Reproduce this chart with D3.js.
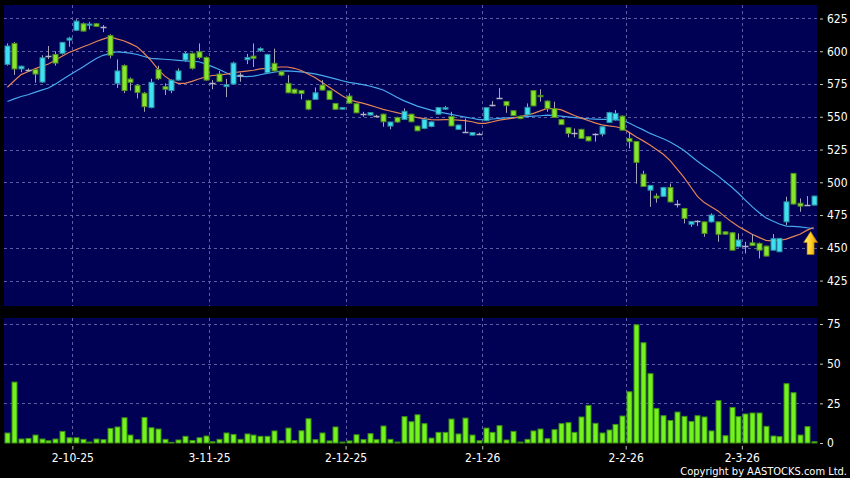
<!DOCTYPE html>
<html>
<head>
<meta charset="utf-8">
<script src="https://cdnjs.cloudflare.com/ajax/libs/d3/7.8.5/d3.min.js"></script>
<style>
  body { margin: 0; background: #000; }
  .axis text { font-family: "DejaVu Sans Condensed", "DejaVu Sans", sans-serif; font-stretch: condensed; font-size: 12px; fill: #fff; }
  .axis line { stroke: #c8c8c8; }
  .axis path { display: none; }
</style>
</head>
<body>
<div id="chart"></div>
<script>
// daily candles, one entry per trading day
const opens = [590,606,586.5,585.8,586,576.5,596,597.6,598.4,608.5,616,621,619.8,621,619.5,612,575.5,589,578.8,574,
  568,557,586,573,570,578,593.3,598.4,599.6,595.3,575.5,582.6,573,575,581.8,593.5,596.3,600.4,583.6,590.8,
  584.4,575.5,571,570,562.5,563.3,574.2,569.8,560.2,555.8,565.8,560,552.5,551.3,551,552,542.9,549.5,548,552,
  542.9,541.1,542.6,552,555.8,550.3,540.4,538.8,536,537.3,547,558.4,564.8,561.7,554.6,550.4,551.4,570,566.3,562,
  556.2,547.8,541.6,538,540.4,534.8,536.8,536.8,545.6,547.5,550.5,533.5,531.2,506.2,494,489.5,489.3,496,484,480,
  468,470.6,469.8,469.8,469.8,462.2,461.5,450.8,451.3,453.8,453.4,451.3,448.2,447,469.8,506.8,484,482.8,482.6];
const highs = [606,607,589,587,586.5,597,604,600,607,611,624.4,622,622.5,621.5,620,613,593.8,590,580,575,
  569,579,589,575.5,578.5,587,599.5,599,606,596,578,585,579,592,583.6,598,606,603,598,602,
  585,581.8,571.5,570.5,563,572.4,578,570.3,560.5,557.5,567.9,560.3,553.8,553.6,551.5,552.3,546.3,550,556.4,552.3,
  543.2,548.3,546.5,557.5,558.2,553.8,544,548.8,538.3,537.8,557.3,562,572,562,555,550.8,560.2,570.5,571,562.5,
  561.5,548.2,542,541.1,540.8,535.2,537.3,542.7,553.8,555.1,551,538.5,531.5,508.8,498,491.5,496.5,499,486.4,480.5,
  470.5,471,470,476.3,470.2,462.6,462,461,454.6,460.5,454,451.7,460.5,457.5,489,507,487.7,489.5,489.8];
const lows = [589,582,584,584.5,576,576,594,589,597.5,603.4,615.5,615,616.7,618.5,614.6,594.6,572,568,570,564,
  553.8,556.5,578,566.6,568,577.5,592,586,594,577.5,571,576.5,565,574.5,576.7,590.2,588,599.5,583,584.5,
  581,568,567.5,563.3,555,563,570,563,555.3,555.5,560,552.8,550,551,550,542.4,540.4,545.5,547.5,545.8,
  539,540.5,542,551.5,555.3,542.8,540,538,535.7,536.8,546.7,558,564.3,553,550.5,548.2,551,558,561.5,553.8,
  549.3,543.8,534.3,534.3,533.2,531.3,531,535,545.2,547,539.5,525.9,499,496.5,481.3,484.4,489,484.7,480.8,468.6,
  466,466.6,458.4,469.3,454.6,460,448,450.4,445.7,451.4,441.9,443.4,447.8,446.7,467.3,483,477.5,482.3,482.3];
const closes = [604,586.5,588.6,585.6,582.6,595,596,591,606.8,610,623,615.4,620.8,619,618.7,597,585,570,576.3,568.6,
  557.7,576.3,579,571,578,585,598.4,587,595.3,578,575.5,577,574.5,591,581.5,595.3,594.6,602,597.6,585,
  581.8,568.3,568,567.7,555.8,568.3,570.4,563.3,555.7,557.1,560.4,553,552.3,553.2,550.8,546.2,546,546,554.2,546.2,
  539.3,548,546.1,557,557,543,543.7,538.5,538,537.1,557,558.9,564.6,558.5,550.9,548.6,557.2,558.3,565.3,556.2,
  549.5,544,537.3,537.8,533.5,531.6,536.6,542.4,553.2,552.6,539.8,531,515.2,496.8,497.6,488,496,485,483.8,472.4,
  470,470.4,461,475,460.3,460.4,448.2,456,451.1,451.7,448.2,443.7,457,457.2,485.1,483.4,481.8,482.5,489.5];
const volumes = [6.3,38.4,2.5,2.9,5.0,2.5,1.4,2.5,7.3,3.3,3.3,2.3,0.6,2.5,2.1,9.2,10.1,15.9,5.0,2.1,
  16.1,9.6,8.8,2.3,0.4,1.9,4.2,1.6,3.3,4.4,0.8,2.3,6.3,5.4,2.3,5.7,5.0,4.2,4.2,7.6,
  1.4,9.4,1.5,7.7,15.3,2.1,6.3,1.3,10.1,0.6,1.3,5.2,2.1,5.9,2.1,10.7,2.3,0.6,16.6,13.4,
  17.8,12.2,3.1,6.7,6.7,15.1,5.7,15.7,5.0,1.4,9.4,6.7,10.9,1.9,7.3,0.6,2.3,7.6,8.8,2.7,
  8.4,12.2,12.8,6.7,16.4,23.7,12.4,6.3,8.2,11.7,17.0,32.3,74.5,63.2,43.7,21.8,17.2,14.2,19.5,16.8,
  13.6,17.2,16.4,7.6,26.7,4.6,22.4,16.6,18.3,18.9,18.9,10.5,4.4,4.0,37.4,31.7,5.0,10.3,0.8];
// moving averages as drawn (orange = short, blue = long)
const maShort = [572.5,577.5,582.2,584.4,586.6,588.5,590.3,593.1,596.2,599.1,601.1,603.2,605.2,607.4,609.3,611.0,609.5,608.0,605.8,603.3,
  598.5,593.0,586.5,581.2,577.5,575.5,575.5,577.0,578.8,580.4,581.5,581.8,582.6,583.6,584.2,584.8,585.5,586.5,587.0,587.5,
  588.0,588.0,587.0,585.3,582.6,580.0,576.6,572.9,569.4,566.0,563.2,561.6,560.4,558.9,557.3,555.6,554.4,553.2,551.9,550.7,
  549.4,548.6,547.8,547.6,547.8,547.9,547.5,547.1,546.2,545.0,545.0,546.2,547.4,548.2,549.0,550.1,551.3,552.6,554.5,556.4,
  556.0,555.4,553.2,551.0,549.0,547.2,545.4,543.8,543.0,542.4,541.4,538.1,534.8,531.8,528.7,525.0,521.4,516.6,510.2,503.9,
  496.6,489.3,484.5,481.4,478.2,473.8,469.8,466.3,463.3,460.4,458.0,455.7,455.3,455.7,456.6,458.5,460.4,463.3,465.5];
const maLong = [561.7,563.7,565.5,566.8,568.6,570.3,572.0,574.9,578.2,581.5,584.7,587.8,591.2,594.5,596.9,598.2,599.6,599.1,598.6,597.5,
  596.0,594.6,594.2,593.9,593.5,593.0,592.6,592.3,592.0,590.4,588.3,586.1,583.6,581.2,580.8,580.6,581.0,582.1,583.1,584.0,
  584.8,585.0,584.6,584.3,583.5,582.8,581.6,580.3,578.9,577.5,576.2,575.5,574.6,573.5,572.0,570.4,567.7,564.9,562.3,560.2,
  558.1,556.6,555.1,553.9,552.8,551.8,550.8,549.8,548.9,547.9,547.8,548.3,548.8,549.1,549.3,549.6,550.1,550.5,550.8,551.2,
  551.0,550.5,550.0,549.4,548.9,548.5,548.2,548.0,548.0,548.0,547.3,545.2,542.6,540.2,537.5,535.3,533.2,530.8,527.7,524.4,
  520.2,516.0,512.2,508.6,504.9,500.6,496.4,491.6,486.4,481.4,477.0,473.0,470.5,468.2,466.6,466.3,466.0,465.3,464.6];

// first trading day of each month
const tickIdx = [10, 30, 50, 70, 91, 108];
const tickLabels = ["2-10-25", "3-11-25", "2-12-25", "2-1-26", "2-2-26", "2-3-26"];
const priceTicks = [425, 450, 475, 500, 525, 550, 575, 600, 625];
const volTicks = [0, 25, 50, 75];

const width = 850, height = 478;
const plotLeft = 4, plotRight = 817;
const pricePane = {top: 5, bottom: 306};
const volPane = {top: 318, bottom: 443};
const n = closes.length;

const svg = d3.select("#chart")
  .append("svg")
  .attr("width", width)
  .attr("height", height)
  .style("display", "block")
  .style("background", "#000");

// x: one slot per day
const x = d3.scaleBand()
  .domain(d3.range(n))
  .range([plotLeft, plotRight])
  .paddingInner(0.16)
  .paddingOuter(0.08);
const slot = d3.scaleLinear().domain([0, n]).range([plotLeft, plotRight]);
const cx = i => Math.round(x(i) + x.bandwidth() / 2) + 0.5;

const yPrice = d3.scaleLinear().domain([405.6, 635.3]).range([pricePane.bottom, pricePane.top]);
const yVol = d3.scaleLinear().domain([0, 78.8]).range([volPane.bottom, volPane.top]);

// panels
[pricePane, volPane].forEach(p => {
  svg.append("rect")
    .attr("x", plotLeft).attr("y", p.top)
    .attr("width", plotRight - plotLeft).attr("height", p.bottom - p.top)
    .attr("fill", "#000055");
});

// grid
const grid = svg.append("g")
  .attr("stroke", "#5d5da6")
  .attr("stroke-dasharray", "3,3")
  .attr("stroke-width", 1);
grid.selectAll(".hp").data(priceTicks).join("line")
  .attr("x1", plotLeft).attr("x2", plotRight)
  .attr("y1", d => Math.round(yPrice(d)) + 0.5).attr("y2", d => Math.round(yPrice(d)) + 0.5);
grid.selectAll(".hv").data(volTicks.filter(d => d > 0)).join("line")
  .attr("x1", plotLeft).attr("x2", plotRight)
  .attr("y1", d => Math.round(yVol(d)) + 0.5).attr("y2", d => Math.round(yVol(d)) + 0.5);
[pricePane, volPane].forEach(p => {
  grid.append("g").selectAll("line").data(tickIdx).join("line")
    .attr("x1", d => Math.round(slot(d)) + 0.5).attr("x2", d => Math.round(slot(d)) + 0.5)
    .attr("y1", p.top).attr("y2", p.bottom);
});

// moving averages
const line = d3.line().x((d, i) => x(i) + x.bandwidth() / 2).y(d => yPrice(d));
svg.append("path").datum(maLong)
  .attr("d", line).attr("fill", "none")
  .attr("stroke", "#46a9ec").attr("stroke-width", 1.2);
svg.append("path").datum(maShort)
  .attr("d", line).attr("fill", "none")
  .attr("stroke", "#e58455").attr("stroke-width", 1.2);

// candles
const days = d3.range(n).map(i => ({i: i, o: opens[i], h: highs[i], l: lows[i], c: closes[i]}));
const candles = svg.append("g");
candles.selectAll(".wick").data(days).join("line")
  .attr("x1", d => cx(d.i)).attr("x2", d => cx(d.i))
  .attr("y1", d => yPrice(d.h)).attr("y2", d => yPrice(d.l))
  .attr("stroke", "#a4a4b4").attr("stroke-width", 1);

const isDoji = d => Math.abs(d.c - d.o) < 0.9;
const bodyW = Math.round(x.bandwidth()) - 1;
candles.selectAll(".body").data(days.filter(d => !isDoji(d))).join("rect")
  .attr("x", d => cx(d.i) - 0.5 - bodyW / 2 + 0.5)
  .attr("y", d => yPrice(Math.max(d.o, d.c)))
  .attr("width", bodyW)
  .attr("height", d => Math.max(1, yPrice(Math.min(d.o, d.c)) - yPrice(Math.max(d.o, d.c))))
  .attr("fill", d => d.c > d.o ? "#3fe0f0" : "#86e62c")
  .attr("stroke", d => d.c > d.o ? "#2a8ea2" : "#4f8c1e")
  .attr("stroke-width", 1);
candles.selectAll(".doji").data(days.filter(isDoji)).join("line")
  .attr("x1", d => cx(d.i) - bodyW / 2 - 0.5).attr("x2", d => cx(d.i) + bodyW / 2 + 0.5)
  .attr("y1", d => Math.round(yPrice(d.c)) + 0.5).attr("y2", d => Math.round(yPrice(d.c)) + 0.5)
  .attr("stroke", "#b4b4c4").attr("stroke-width", 1.5);

// volume bars
svg.append("g").selectAll("rect").data(volumes).join("rect")
  .attr("x", (d, i) => cx(i) - bodyW / 2)
  .attr("y", d => yVol(d))
  .attr("width", bodyW)
  .attr("height", d => volPane.bottom - yVol(d))
  .attr("fill", "#74f21e")
  .attr("stroke", "#3c9012")
  .attr("stroke-width", 1);

// arrow under the last average
const defs = svg.append("defs");
const grad = defs.append("linearGradient").attr("id", "gold").attr("x1", 0).attr("x2", 1).attr("y1", 0).attr("y2", 0);
grad.append("stop").attr("offset", "0%").attr("stop-color", "#fff27a");
grad.append("stop").attr("offset", "55%").attr("stop-color", "#ffcc22");
grad.append("stop").attr("offset", "100%").attr("stop-color", "#d48a00");
const ax = x(n - 1) + x.bandwidth() / 2 - 3;
const ay = yPrice(maShort[n - 1]) + 4;
svg.append("path")
  .attr("d", `M${ax},${ay} L${ax + 7},${ay + 11} L${ax + 3.5},${ay + 11} L${ax + 3.5},${ay + 23} L${ax - 3.5},${ay + 23} L${ax - 3.5},${ay + 11} L${ax - 7},${ay + 11} Z`)
  .attr("fill", "url(#gold)")
  .attr("stroke", "#b07800")
  .attr("stroke-width", 0.6);

// axes
svg.append("g")
  .attr("class", "axis")
  .attr("transform", `translate(820,0)`)
  .call(d3.axisRight(yPrice).tickValues(priceTicks).tickSize(3).tickPadding(4));
svg.append("g")
  .attr("class", "axis")
  .attr("transform", `translate(820,0)`)
  .call(d3.axisRight(yVol).tickValues(volTicks).tickSize(3).tickPadding(4));
svg.append("g")
  .attr("class", "axis")
  .attr("transform", `translate(0,${volPane.bottom + 3})`)
  .call(d3.axisBottom(slot).tickValues(tickIdx).tickSize(3.5).tickPadding(4)
    .tickFormat((d, k) => tickLabels[k]));

svg.append("text")
  .attr("x", 847).attr("y", 475)
  .attr("text-anchor", "end")
  .style("font-family", "\"DejaVu Sans Condensed\", \"DejaVu Sans\", sans-serif")
  .style("font-stretch", "condensed")
  .style("font-size", "11px")
  .attr("fill", "#fff")
  .text("Copyright by AASTOCKS.com Ltd.");
</script>
</body>
</html>
